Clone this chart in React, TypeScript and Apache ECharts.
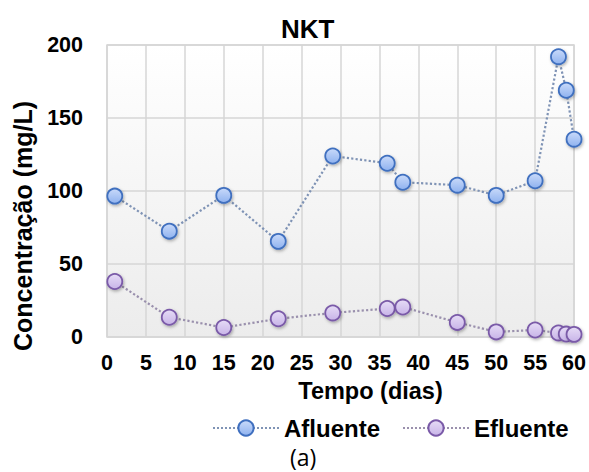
import React, { useEffect, useRef } from "react";
import * as echarts from "echarts";

const titleText = "NKT";
const days = [1, 8, 15, 22, 29, 36, 38, 45, 50, 55, 58, 59, 60];
const afluente = [96.5, 72.5, 97, 65.5, 124, 119, 106, 104, 97, 107, 192, 169, 135.5];
const efluente = [38, 13.5, 6.5, 12.5, 16.5, 19.5, 20.5, 10, 3.5, 4.8, 2.8, 2, 1.8];
const seriesNames = ["Afluente", "Efluente"];
const xName = "Tempo (dias)";
const yName = "Concentração (mg/L)";
const caption = "(a)";

const FONT = "Liberation Sans, Arial, sans-serif";

export default function App() {
  const ref = useRef<HTMLDivElement>(null);
  useEffect(() => {
    if (!ref.current) return;
    const chart = echarts.init(ref.current, null, { renderer: "svg" });
    const mkSeries = (name: string, vals: number[], fill: string, fill2: string, border: string, line: string) => ({
      name,
      type: "line",
      data: days.map((d, i) => [d, vals[i]]),
      symbol: "circle",
      symbolSize: 15,
      lineStyle: { type: "dotted", width: 2.2, color: line },
      itemStyle: {
        color: new echarts.graphic.LinearGradient(0, 0, 0, 1, [
          { offset: 0, color: fill2 },
          { offset: 1, color: fill },
        ]),
        borderColor: border,
        borderWidth: 1.8,
        shadowColor: "rgba(0,0,0,0.3)",
        shadowBlur: 3,
        shadowOffsetX: 1,
        shadowOffsetY: 1.5,
      },
      z: 3,
    });
    chart.setOption({
      animation: false,
      backgroundColor: "#ffffff",
      textStyle: { fontFamily: FONT },
      title: {
        text: titleText,
        left: 276,
        top: 11,
        textStyle: { fontSize: 26, fontWeight: "bold", color: "#000", fontFamily: FONT },
      },
      grid: {
        left: 107,
        right: 14,
        top: 45,
        bottom: 135,
        show: true,
        backgroundColor: new echarts.graphic.LinearGradient(0, 0, 0, 1, [
          { offset: 0, color: "#ffffff" },
          { offset: 1, color: "#ececec" },
        ]),
        borderColor: "#d6d6d6",
        borderWidth: 1.5,
      },
      legend: {
        left: 207,
        top: 411,
        itemWidth: 66,
        itemHeight: 19,
        itemGap: 22,
        textStyle: { fontSize: 24, fontWeight: "bold", color: "#000", fontFamily: FONT },
        data: seriesNames,
      },
      xAxis: {
        type: "value",
        min: 0,
        max: 60,
        interval: 5,
        name: xName,
        nameLocation: "middle",
        nameGap: 35,
        nameTextStyle: { fontSize: 23.5, fontWeight: "bold", color: "#000", fontFamily: FONT, padding: [0, 0, 0, 60] },
        axisLine: { show: false },
        axisTick: { show: false },
        axisLabel: { fontSize: 21.5, fontWeight: "bold", color: "#000", margin: 15, fontFamily: FONT },
        splitLine: { show: true, lineStyle: { color: "#d6d6d6", width: 1.5 } },
      },
      yAxis: {
        type: "value",
        min: 0,
        max: 200,
        interval: 50,
        name: yName,
        nameLocation: "middle",
        nameGap: 72,
        nameTextStyle: { fontSize: 25, fontWeight: "bold", color: "#000", fontFamily: FONT, padding: [0, 70, 0, 0] },
        axisLine: { show: false },
        axisTick: { show: false },
        axisLabel: { fontSize: 21.5, fontWeight: "bold", color: "#000", margin: 24, fontFamily: FONT },
        splitLine: { show: true, lineStyle: { color: "#d6d6d6", width: 1.5 } },
      },
      graphic: [
        {
          type: "text",
          left: 290,
          top: 445,
          style: { text: caption, fontSize: 23, fill: "#000", fontFamily: "Open Sans, sans-serif" },
        },
      ],
      series: [
        mkSeries(seriesNames[0], afluente, "#8fb2ef", "#c9dafa", "#3f6fbf", "#7f93b5"),
        mkSeries(seriesNames[1], efluente, "#c8b4e8", "#e6dcf6", "#7a5aa8", "#9a90ad"),
      ],
    });
    return () => chart.dispose();
  }, []);
  return (
    <div
      ref={ref}
      style={{ position: "fixed", left: 0, top: 0, width: 589, height: 472 }}
    />
  );
}
